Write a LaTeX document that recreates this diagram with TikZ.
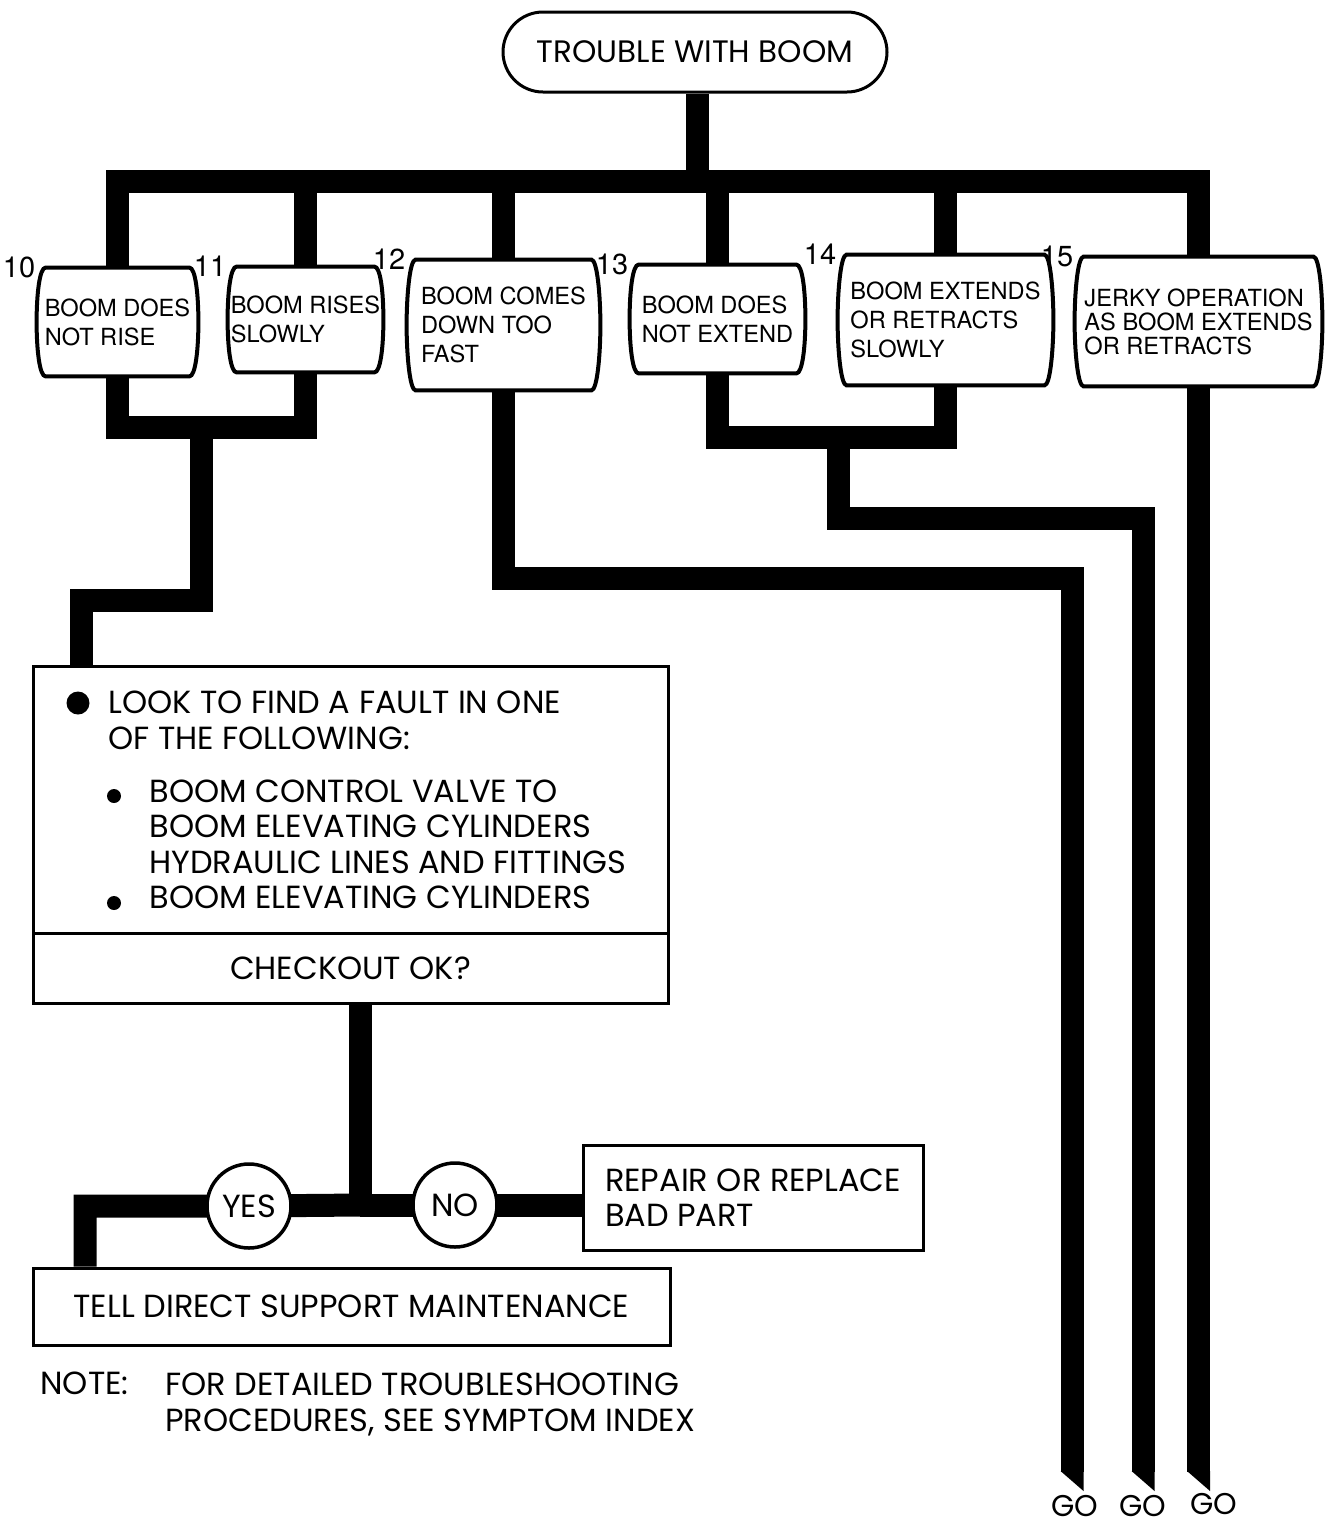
\documentclass[tikz,border=0pt]{standalone}
\usepackage{fontspec}
\setmainfont{Poppins}
\newfontfamily\helv{TeX Gyre Heros}
\usetikzlibrary{backgrounds,calc}

\begin{document}
\begin{tikzpicture}[x=0.5pt,y=-0.5pt,
  font=\fontsize{16}{17.75}\selectfont,
  pipe/.style={line width=11.5pt,line join=miter},
  frame/.style={draw,line width=1.5pt,fill=white,inner sep=0pt},
  symptom/.style={font=\helv\fontsize{11.8}{14.5}\selectfont,
    align=left,inner sep=0pt},
  barrel/.style={draw,line width=2pt,fill=white},
  num/.style={font=\helv\fontsize{14.5}{14.5}\selectfont,anchor=east,inner sep=0.5pt},
  answer/.style={circle,draw,line width=1.75pt,fill=white,
    minimum size=42pt,inner sep=0pt},
  golabel/.style={inner sep=0pt,font=\fontsize{15}{15}\selectfont}]
\useasboundingbox (0,0) rectangle (1325,1526);

\node[frame,rounded corners=20pt,minimum width=192pt,minimum height=40pt,
  font=\fontsize{15.5}{18}\selectfont] (trouble) at (695,52) {TROUBLE WITH BOOM};

\node[symptom,minimum width=80.5pt,minimum height=54pt,label={[num]north west:10}] (s10) at (117.5,322) {BOOM DOES\\NOT RISE};
\node[symptom,minimum width=77.5pt,minimum height=52.5pt,label={[num]north west:11}] (s11) at (305.5,319.5) {BOOM RISES\\SLOWLY};
\node[symptom,minimum width=96.5pt,minimum height=65pt,label={[num]north west:12}] (s12) at (503.5,325) {BOOM COMES\\DOWN TOO\\FAST};
\node[symptom,minimum width=87.5pt,minimum height=54pt,label={[num]north west:13}] (s13) at (717.5,319) {BOOM DOES\\NOT EXTEND};
\node[symptom,minimum width=107.5pt,minimum height=65pt,label={[num]north west:14}] (s14) at (945.5,320) {BOOM EXTENDS\\OR RETRACTS\\SLOWLY};
\node[symptom,minimum width=123.5pt,minimum height=64.5pt,label={[num]north west:15},
  font=\helv\fontsize{11.8}{12}\selectfont] (s15) at (1198.5,321.5) {JERKY OPERATION\\AS BOOM EXTENDS\\OR RETRACTS};

\node[frame,minimum width=317.5pt,minimum height=133.5pt] (fault) at (350.5,799.5) {};
\node[frame,minimum width=317.5pt,minimum height=35pt] (checkout) at (350.5,968) {CHECKOUT OK?};
\node[anchor=west,align=left,inner sep=0pt] (faultlist) at (108,800) {LOOK TO FIND A FAULT IN ONE\\OF THE FOLLOWING:\\[8.75pt]
  \hspace*{20.5pt}BOOM CONTROL VALVE TO\\
  \hspace*{20.5pt}BOOM ELEVATING CYLINDERS\\
  \hspace*{20.5pt}HYDRAULIC LINES AND FITTINGS\\
  \hspace*{20.5pt}BOOM ELEVATING CYLINDERS};
\fill (78,703) circle (11.5);
\fill (114,796) circle (7);
\fill (114,903) circle (7);

\node[answer] (yes) at (249,1206) {YES};
\node[answer] (no) at (455,1205) {NO};
\node[frame,align=left,minimum width=170pt,minimum height=52.5pt] (repair) at (753,1197.5) {REPAIR OR REPLACE\\BAD PART};
\node[frame,minimum width=318.5pt,minimum height=38.5pt] (tell) at (351.5,1306.5) {TELL DIRECT SUPPORT MAINTENANCE};
\node[anchor=north west,inner sep=0pt] (note) at (40,1372) {NOTE:};
\node[anchor=north west,align=left,inner sep=0pt,font=\fontsize{16}{18}\selectfont] (notetext) at (165,1372) {FOR DETAILED TROUBLESHOOTING\\PROCEDURES, SEE SYMPTOM INDEX};

\coordinate (bus) at (697,181);
\coordinate (lift) at (201,427);
\coordinate (turn) at (81,600);
\coordinate (fast) at (1072,578);
\coordinate (merge) at (838,437);
\coordinate (ext) at (1143,518);
\coordinate (end1) at (1072,1472);
\coordinate (end2) at (1143,1472);
\coordinate (end3) at (1198.5,1472);
\coordinate (split) at (360,1205);
\node[golabel] (go1) at (1075,1506) {GO};
\node[golabel] (go2) at (1143,1506) {GO};
\node[golabel] (go3) at (1214,1504) {GO};

\begin{scope}[on background layer]
\draw[pipe] (trouble.south -| bus) -- (bus);
\draw[pipe] (s10.north) |- (bus) -| (s15.north);
\foreach \n in {s11,s12,s13,s14}
  \draw[pipe] (\n.north) -- (\n.north |- bus);
\draw[pipe] (s10.south) |- (lift) -| (s11.south);
\draw[pipe] (lift) |- (turn) -- (fault.north -| turn);
\draw[pipe] (s12.south) |- (fast) -- (end1);
\draw[pipe] (s13.south) |- (merge) -| (s14.south);
\draw[pipe] (merge) |- (ext) -- (end2);
\draw[pipe] (s15.south) -- (end3);
\foreach \e in {end1,end2,end3}
  \fill (\e) ++(-11.5,-1) -- ++(23,0) -- ++(0,20) -- cycle;
\draw[pipe] (checkout.south -| split) -- (split);
\draw[pipe] (split) -- (yes.center) -| (tell.north -| 85,0);
\draw[pipe] (split) -- (no.center) -- (no.center -| repair.west);
\foreach \n in {s10,s11,s12,s13,s14,s15}
  \draw[barrel] ($(\n.north west)+(9,0)$) -- ($(\n.north east)+(-9,0)$)
    .. controls ($(\n.north east)+(-3,0)$) and ($(\n.east)+(0,-28)$) .. (\n.east)
    .. controls ($(\n.east)+(0,28)$) and ($(\n.south east)+(-3,0)$) .. ($(\n.south east)+(-9,0)$)
    -- ($(\n.south west)+(9,0)$)
    .. controls ($(\n.south west)+(3,0)$) and ($(\n.west)+(0,28)$) .. (\n.west)
    .. controls ($(\n.west)+(0,-28)$) and ($(\n.north west)+(3,0)$) .. cycle;
\end{scope}
\end{tikzpicture}
\end{document}
